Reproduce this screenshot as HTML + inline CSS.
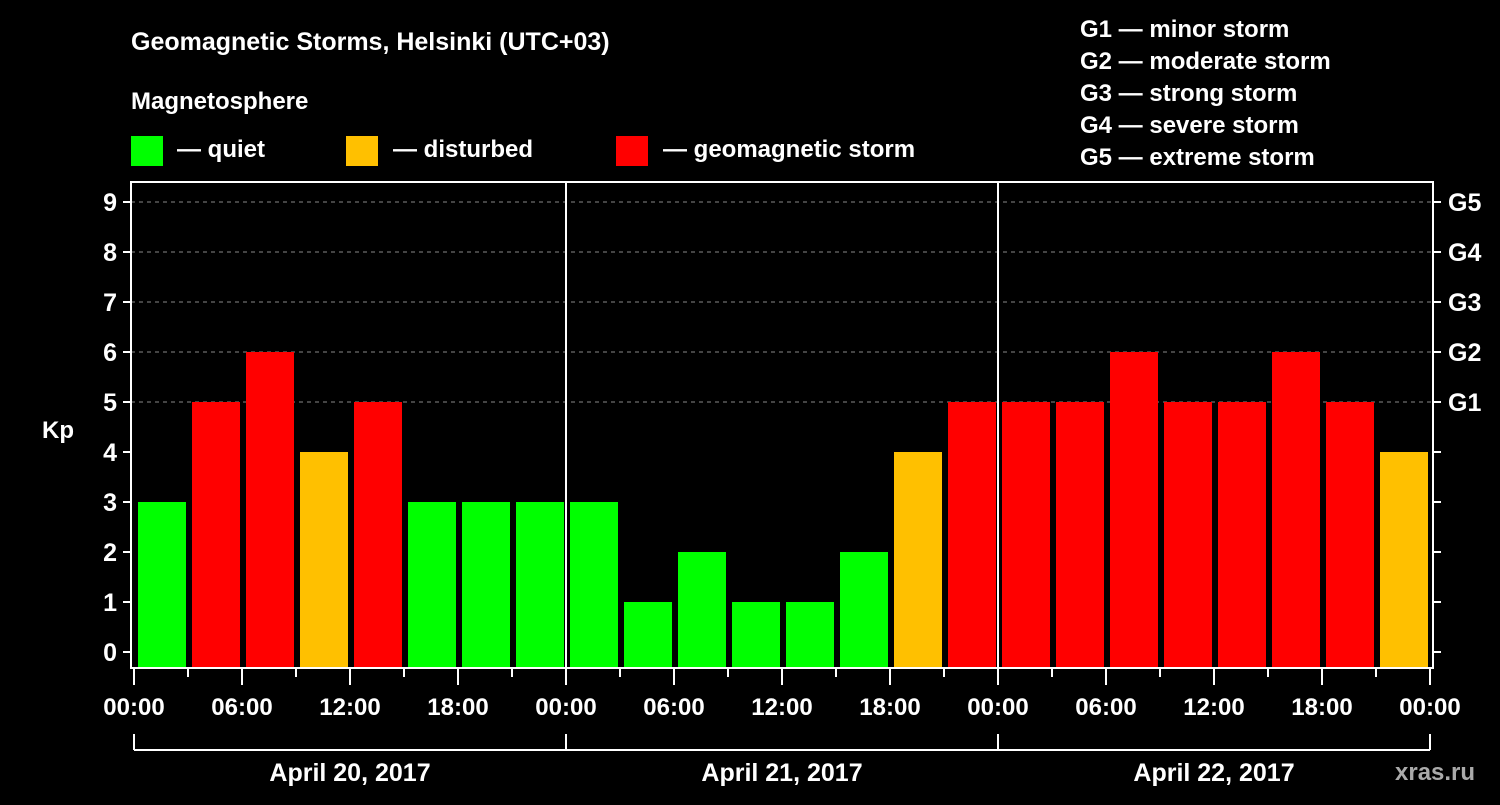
<!DOCTYPE html>
<html><head><meta charset="utf-8"><style>
body{margin:0;background:#000;}
svg text{font-family:"Liberation Sans",sans-serif;font-weight:bold;fill:#fff;}
</style></head><body>
<svg id="c" width="1500" height="800" viewBox="0 0 1500 800">
<rect width="1500" height="800" fill="#000"/>
<text x="131" y="50" font-size="25">Geomagnetic Storms, Helsinki (UTC+03)</text>
<text x="131" y="109" font-size="24">Magnetosphere</text>
<g><rect x="131" y="136" width="32" height="30" fill="#00ff00"/><text x="177" y="157" font-size="24">— quiet</text></g>
<g><rect x="346" y="136" width="32" height="30" fill="#ffc000"/><text x="393" y="157" font-size="24">— disturbed</text></g>
<g><rect x="616" y="136" width="32" height="30" fill="#ff0000"/><text x="663" y="157" font-size="24">— geomagnetic storm</text></g>
<g font-size="24">
<text x="1080" y="37">G1 — minor storm</text>
<text x="1080" y="69">G2 — moderate storm</text>
<text x="1080" y="101">G3 — strong storm</text>
<text x="1080" y="133">G4 — severe storm</text>
<text x="1080" y="165">G5 — extreme storm</text>
</g>
<text x="42" y="438" font-size="24">Kp</text>
<g id="grid"></g><g id="bars"></g><g id="axes"></g>
<text x="1395" y="780" font-size="24" fill="#999" style="fill:#aaa">xras.ru</text>
</svg>
<script>
const kpValues=[3,5,6,4,5,3,3,3, 3,1,2,1,1,2,4,5, 5,5,6,5,5,6,5,4];
const dayLabels=["April 20, 2017","April 21, 2017","April 22, 2017"];
const hourLabels=["00:00","06:00","12:00","18:00"];
const gLabels=["G1","G2","G3","G4","G5"];
const NS="http://www.w3.org/2000/svg";
const X0=134,PX_H=18,Y0=652,PX_K=50,TOP=182,BOT=668,LEFT=131,RIGHT=1433;
const xs=h=>X0+h*PX_H, ys=k=>Y0-k*PX_K;
function mk(t,a,p){const e=document.createElementNS(NS,t);for(const k in a)e.setAttribute(k,a[k]);p.appendChild(e);return e;}
const grid=document.getElementById('grid'),bars=document.getElementById('bars'),axes=document.getElementById('axes');
for(let k=5;k<=9;k++){const l=mk('line',{x1:LEFT,x2:RIGHT,y1:ys(k),y2:ys(k),stroke:'#888','stroke-dasharray':'4,4'},grid);

}
kpValues.forEach((v,i)=>{const c=v>=5?'#ff0000':v>=4?'#ffc000':'#00ff00';
const r=mk('rect',{x:xs(i*3)+4,y:ys(v),width:xs(i*3+3)-xs(i*3)-6,height:667-ys(v),fill:c},bars);

});
const fr=mk('rect',{x:LEFT,y:TOP,width:RIGHT-LEFT,height:BOT-TOP,fill:'none',stroke:'#fff','stroke-width':2},axes);


for(let d=1;d<3;d++){const l=mk('line',{x1:xs(d*24),x2:xs(d*24),y1:TOP,y2:BOT,stroke:'#fff','stroke-width':2},axes);

}
for(let k=0;k<=9;k++){mk('line',{x1:LEFT-8,x2:LEFT,y1:ys(k),y2:ys(k),stroke:'#fff','stroke-width':2},axes);
mk('line',{x1:RIGHT,x2:RIGHT+8,y1:ys(k),y2:ys(k),stroke:'#fff','stroke-width':2},axes);
const t=mk('text',{x:LEFT-14,y:ys(k)+9,'font-size':25,'text-anchor':'end'},axes);t.textContent=k;

}
gLabels.forEach((g,i)=>{const t=mk('text',{x:1448,y:ys(5+i)+9,'font-size':25},axes);t.textContent=g;

});
for(let h=0;h<=72;h+=3){const big=h%6===0;mk('line',{x1:xs(h),x2:xs(h),y1:BOT,y2:BOT+(big?17:9),stroke:'#fff','stroke-width':2},axes);
if(big){const t=mk('text',{x:xs(h),y:715,'font-size':24,'text-anchor':'middle'},axes);t.textContent=hourLabels[(h%24)/6];

}}
mk('line',{x1:xs(0),x2:xs(72),y1:750,y2:750,stroke:'#fff','stroke-width':2},axes);
for(let d=0;d<=3;d++)mk('line',{x1:xs(d*24),x2:xs(d*24),y1:734,y2:750,stroke:'#fff','stroke-width':2},axes);
dayLabels.forEach((s,i)=>{const t=mk('text',{x:xs(i*24+12),y:781,'font-size':25,'text-anchor':'middle'},axes);t.textContent=s;

});
</script>
</body></html>
